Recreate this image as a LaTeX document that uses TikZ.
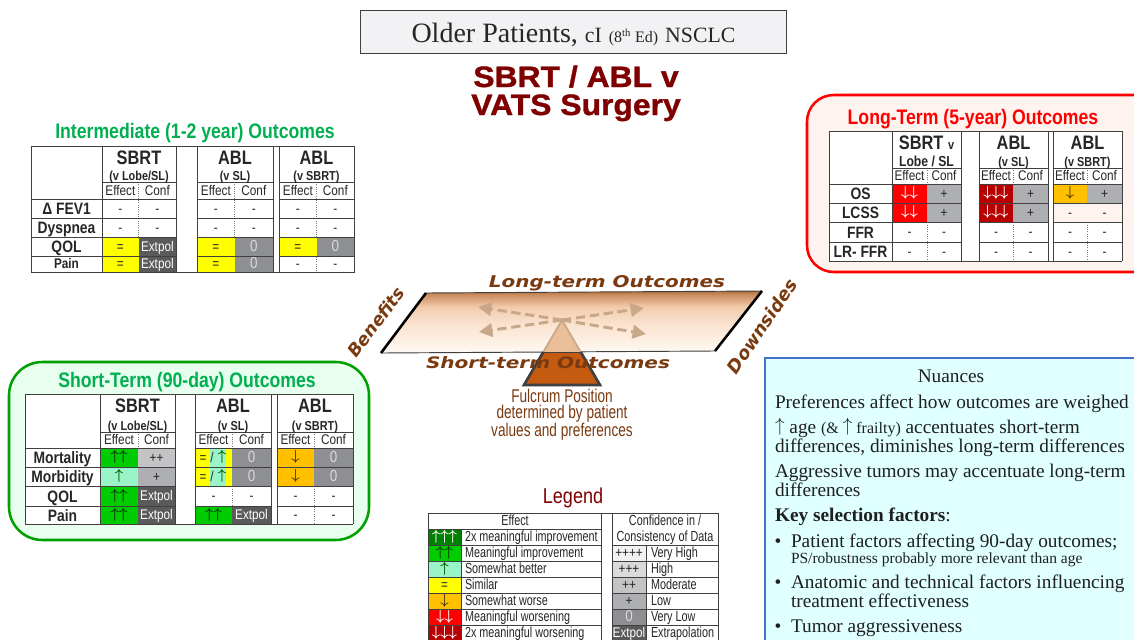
\documentclass[tikz,border=0pt]{standalone}
\usepackage{fontspec}
\usepackage{graphicx}
\usetikzlibrary{arrows.meta}
\setmainfont{Liberation Serif}
\newfontfamily\nar[FakeStretch=0.84]{Liberation Sans}
\newfontfamily\nal[FakeStretch=0.74]{Liberation Sans}
\newfontfamily\ari{Liberation Sans}
\newfontfamily\heavy[FakeBold=1.2,FakeStretch=1.08]{Liberation Sans}
\newfontfamily\wide{DejaVu Sans}
\newcommand\px[1]{\fontsize{\fpeval{#1*.75}}{\fpeval{#1*.78}}\selectfont}
\definecolor{cGrid}{HTML}{404040}
\definecolor{cDG}{HTML}{008000}
\definecolor{cG}{HTML}{00CC00}
\definecolor{cM}{HTML}{99F5C8}
\definecolor{cY}{HTML}{FFFF00}
\definecolor{cO}{HTML}{FFC000}
\definecolor{cR}{HTML}{FF0000}
\definecolor{cDR}{HTML}{B80000}
\definecolor{cVH}{HTML}{F2F2F4}
\definecolor{cH}{HTML}{DADADC}
\definecolor{cMod}{HTML}{C4C4C6}
\definecolor{cLow}{HTML}{ADAFB2}
\definecolor{cVL}{HTML}{8E8F92}
\definecolor{cEx}{HTML}{5A5A5A}
\definecolor{cPk}{HTML}{FFF3F0}
\definecolor{cGreen}{HTML}{00B050}
\definecolor{cBrown}{HTML}{7A3A10}
\definecolor{cMaroon}{HTML}{7F0000}
\definecolor{cFulc}{HTML}{C55A11}
\definecolor{cFulcUp}{HTML}{E9BE98}
\definecolor{cBeam}{HTML}{C8A888}
\definecolor{cGreenBox}{HTML}{00A000}
\definecolor{cGreenFill}{HTML}{E8FFF0}
\definecolor{cBlueBox}{HTML}{4472C4}
\definecolor{cNua}{HTML}{E0FFFF}
\pgfdeclareverticalshading{planeshade}{100bp}{
 rgb(0bp)=(1,.98,.96); rgb(25bp)=(1,.98,.96);
 rgb(50bp)=(.98,.88,.80);
 rgb(62bp)=(.95,.80,.68);
 rgb(72bp)=(.80,.56,.38);
 rgb(75bp)=(.70,.43,.22);
 rgb(100bp)=(.70,.43,.22)}
\tikzset{
 every node/.append style={inner sep=0pt,outer sep=0pt,font=\nar\px{14},text=black!85},
 cellt/.style={text height=7pt,text depth=0pt},
 grid/.style={draw=cGrid,line width=.7pt},
 dashline/.style={draw=cGrid!70,line width=.7pt,densely dotted},
 head/.style={font=\nar\bfseries\px{19.5},text height=10.3pt,text depth=0pt},
 sub/.style={font=\nar\bfseries\px{13},text height=7pt,text depth=0pt},
 lab/.style={font=\nar\bfseries\px{16.5},text height=9pt,text depth=0pt},
 nua/.style={anchor=base west,font=\rmfamily\px{19.3},text=black!88},
 bul/.style={anchor=base,font=\rmfamily\px{19.3},text=black!88},
 ttl/.style={font=\nar\bfseries\px{21},text height=11pt,text depth=0pt},
 sideT/.style={font=\wide\bfseries\itshape,text=cBrown},
 beam/.style={draw=cBeam,line width=2.2pt,dash pattern=on 7pt off 3.5pt,-{Triangle[length=10pt,width=10pt]}},
 leg/.style={anchor=west,font=\nal\px{14.6},cellt},
}
\newcounter{cellno}
\newcommand\SetX[9]{\def\xL{#1}\def\xA{#2}\def\xAd{#3}\def\xB{#4}\def\xC{#5}\def\xCd{#6}\def\xD{#7}\def\xE{#8}\def\xEd{#9}}
\newcommand\SetY[8]{\def\yT{#1}\def\yH{#2}\def\yS{#3}\def\yA{#4}\def\yB{#5}\def\yC{#6}\def\yD{#7}\def\yE{#8}}
\newcommand\SetRow[2]{\def\ya{#1}\def\yb{#2}}
\newcommand\Cell[6]{% x1 x2 y1 y2 fill text
 \stepcounter{cellno}%
 \path[fill=#5] (#1,#3) rectangle (#2,#4);
 \node[cellt] (cell\thecellno) at ({(#1+#2)/2},{(#3+#4)/2}) {#6};}
\newcommand\Pair[7]{\Cell{#1}{#2}{\ya}{\yb}{#4}{#5}\Cell{#2}{#3}{\ya}{\yb}{#6}{#7}}
\newcommand\PA[4]{\Pair{\xA}{\xAd}{\xB}{#1}{#2}{#3}{#4}}
\newcommand\PB[4]{\Pair{\xC}{\xCd}{\xD}{#1}{#2}{#3}{#4}}
\newcommand\PC[4]{\Pair{\xE}{\xEd}{\xF}{#1}{#2}{#3}{#4}}
\newcommand\Lab[2][lab]{\stepcounter{cellno}\node[#1] (lab\thecellno) at ({(\xL+\xA)/2},{(\ya+\yb)/2}) {#2};}
\newcommand\TableBase{%
 \fill[white] (\xL,\yT) rectangle (\xF,\yE);
 \foreach \xx in {\xAd,\xCd,\xEd} {\draw[dashline] (\xx,\yH) -- (\xx,\yE);}
}
\newcommand\TableGrid{%
 \draw[grid] (\xL,\yT) -- (\xF,\yT) (\xL,\yE) -- (\xF,\yE);
 \foreach \xx in {\xL,\xA,\xB,\xC,\xD,\xE,\xF} {\draw[grid] (\xx,\yT) -- (\xx,\yE);}
 \foreach \yy in {\yS,\yA,\yB,\yC} {
  \draw[grid] (\xL,\yy) -- (\xB,\yy) (\xC,\yy) -- (\xD,\yy) (\xE,\yy) -- (\xF,\yy);}
 \foreach \xa/\xb in {\xA/\xB,\xC/\xD,\xE/\xF} {\draw[grid] (\xa,\yH) -- (\xb,\yH);}
}
\newcommand\Head[5]{% xa xd xb title sub
 \stepcounter{cellno}%
 \node[head] (h\thecellno) at ({(#1+#3)/2},{\yT+11.5}) {#4};
 \node[sub] (s\thecellno) at ({(#1+#3)/2},{\yH-6.5}) {#5};
 \node[cellt] (e\thecellno) at ({(#1+#2)/2},{(\yH+\yS)/2}) {Effect};
 \node[cellt] (c\thecellno) at ({(#2+#3)/2},{(\yH+\yS)/2}) {Conf};}
\newcommand\Ar[1]{\raisebox{1pt}{\fontsize{10.95}{13}\selectfont\boldmath$#1$}}
\newcommand\Uuu{\textcolor{white}{\Ar{\uparrow\uparrow\uparrow}}}
\newcommand\Uu{\textcolor{black!55!cDG}{\Ar{\uparrow\uparrow}}}
\newcommand\U{\textcolor{black!30!cDG}{\Ar{\uparrow}}}
\newcommand\Dn{\textcolor{black!70!cO}{\Ar{\downarrow}}}
\newcommand\Dd{\textcolor{white}{\Ar{\downarrow\downarrow}}}
\newcommand\Ddd{\textcolor{white}{\Ar{\downarrow\downarrow\downarrow}}}
\newcommand\Ex{\textcolor{white}{Extpol}}
\newcommand\Zr{\textcolor{white!85!black}{\px{16}0}}
\newcommand\NUp{\raisebox{1pt}{\fontsize{14.4}{16}\selectfont$\uparrow$}}
\begin{document}
\begin{tikzpicture}[x=0.75pt,y=-0.75pt]
\useasboundingbox (0,0) rectangle (1134,639);
\clip (0,0) rectangle (1134,639);
\fill[white] (0,0) rectangle (1134,639);
% Title
\node[draw=cGrid,fill=cVH,line width=.7pt,minimum width=320pt,minimum height=32.2pt] (titlebox) at (573.5,31.5) {};
\node[anchor=base,font=\rmfamily\px{28},text=black!85] (title) at (573.5,42) {Older Patients, {\px{21.8}cI} {\px{16}(8\textsuperscript{th} Ed)} {\px{21.8}NSCLC}};
\node[anchor=base,font=\heavy\bfseries\px{29.5},text=cMaroon] (main1) at (576,87) {SBRT / ABL v};
\node[anchor=base,font=\heavy\bfseries\px{29.5},text=cMaroon] (main2) at (576,115) {VATS Surgery};

% Intermediate
\node[ttl,text=cGreen] (intT) at (195,131) {Intermediate (1-2 year) Outcomes};
\SetX{31}{102}{138.7}{176}{197}{234.7}{273}{279}{316.7}\def\xF{354}
\SetY{146}{182}{199}{218}{237}{256}{272.5}{272.5}
\TableBase
\SetRow{\yS}{\yA}\Lab{Δ FEV1}\PA{none}{-}{none}{-}\PB{none}{-}{none}{-}\PC{none}{-}{none}{-}
\SetRow{\yA}{\yB}\Lab{Dyspnea}\PA{none}{-}{none}{-}\PB{none}{-}{none}{-}\PC{none}{-}{none}{-}
\SetRow{\yB}{\yC}\Lab{QOL}\PA{cY}{=}{cEx}{\Ex}\PB{cY}{=}{cVL}{\Zr}\PC{cY}{=}{cVL}{\Zr}
\SetRow{\yC}{\yD}\Lab[font=\nar\bfseries\px{14},cellt]{Pain}\PA{cY}{=}{cEx}{\Ex}\PB{cY}{=}{cVL}{\Zr}\PC{none}{-}{none}{-}
\TableGrid
\Head{\xA}{\xAd}{\xB}{SBRT}{(v Lobe/SL)}
\Head{\xC}{\xCd}{\xD}{ABL}{(v SL)}
\Head{\xE}{\xEd}{\xF}{ABL}{(v SBRT)}

% Long term
\draw[draw=cR,fill=cPk,line width=1.9pt,rounded corners=20pt] (807,95) rectangle (1170,272);
\node[ttl,text=cR] (longT) at (973,117) {Long-Term (5-year) Outcomes};
\SetX{829}{892}{927}{961}{979}{1013}{1048}{1053}{1087}\def\xF{1122}
\SetY{131}{168}{184}{203}{222}{242}{261}{261}
\TableBase
\SetRow{\yS}{\yA}\Lab{OS}\PA{cR}{\Dd}{cLow}{+}\PB{cDR}{\Ddd}{cLow}{+}\PC{cO}{\Dn}{cLow}{+}
\SetRow{\yA}{\yB}\Lab{LCSS}\PA{cR}{\Dd}{cLow}{+}\PB{cDR}{\Ddd}{cLow}{+}\PC{cPk}{-}{cPk}{-}
\SetRow{\yB}{\yC}\Lab{FFR}\PA{none}{-}{none}{-}\PB{none}{-}{none}{-}\PC{none}{-}{none}{-}
\SetRow{\yC}{\yD}\Lab{LR- FFR}\PA{none}{-}{none}{-}\PB{none}{-}{none}{-}\PC{none}{-}{none}{-}
\TableGrid
\Head{\xA}{\xAd}{\xB}{SBRT {\px{13}v}}{\px{14.5}Lobe / SL}
\Head{\xC}{\xCd}{\xD}{ABL}{(v SL)}
\Head{\xE}{\xEd}{\xF}{ABL}{(v SBRT)}

% Short term
\draw[draw=cGreenBox,fill=cGreenFill,line width=1.9pt,rounded corners=25pt] (9,362) rectangle (369,540);
\node[ttl,text=cGreen] (shortT) at (187,380) {Short-Term (90-day) Outcomes};
\SetX{25}{100}{138}{175}{195}{232}{271}{277}{314}\def\xF{353}
\SetY{394}{432}{448}{467}{486}{506}{524}{524}
\TableBase
\SetRow{\yS}{\yA}\Lab{Mortality}\PA{cG}{\Uu}{cMod}{++}\PC{cO}{\Dn}{cVL}{\Zr}
\fill[cY] (\xC,\yS) rectangle (\xCd,\yB);\fill[cM] (210,\yS) rectangle (226,\yB);
\Cell{\xCd}{\xD}{\yS}{\yA}{cVL}{\Zr}
\stepcounter{cellno}\node[cellt] (mixa\thecellno) at (203,457.5) {=};\node[cellt] (mixb\thecellno) at (212,457.5) {/};\node[cellt] (mixc\thecellno) at (222,457.5) {\U};
\SetRow{\yA}{\yB}\Lab{Morbidity}\PA{cM}{\U}{cLow}{+}\PC{cO}{\Dn}{cVL}{\Zr}
\Cell{\xCd}{\xD}{\yA}{\yB}{cVL}{\Zr}
\stepcounter{cellno}\node[cellt] (mixa\thecellno) at (203,476.5) {=};\node[cellt] (mixb\thecellno) at (212,476.5) {/};\node[cellt] (mixc\thecellno) at (222,476.5) {\U};
\SetRow{\yB}{\yC}\Lab{QOL}\PA{cG}{\Uu}{cEx}{\Ex}\PB{none}{-}{none}{-}\PC{none}{-}{none}{-}
\SetRow{\yC}{\yD}\Lab{Pain}\PA{cG}{\Uu}{cEx}{\Ex}\PB{cG}{\Uu}{cEx}{\Ex}\PC{none}{-}{none}{-}
\TableGrid
\Head{\xA}{\xAd}{\xB}{SBRT}{(v Lobe/SL)}
\Head{\xC}{\xCd}{\xD}{ABL}{(v SL)}
\Head{\xE}{\xEd}{\xF}{ABL}{(v SBRT)}

% Seesaw
\coordinate (pTL) at (426,293);\coordinate (pTR) at (762,291);\coordinate (pBR) at (715,351);\coordinate (pBL) at (381,353);
\coordinate (apex) at (562,320);\coordinate (fL) at (524,385);\coordinate (fR) at (600,385);
\coordinate (mL) at (543.3,352);\coordinate (mR) at (580.7,352);
\coordinate (a1) at (478,307);\coordinate (a2) at (644,308);\coordinate (a3) at (479,332);\coordinate (a4) at (646,334);
\path[shading=planeshade] (pTL) -- (pTR) -- (pBR) -- (pBL) -- cycle;
\draw[cGrid,line width=.7pt] (pTL) -- (pTR) (pBL) -- (pBR);
\draw[black,line width=1.9pt] (pTL) -- (pBL) (pTR) -- (pBR);
\fill[cFulcUp] (apex) -- (mR) -- (mL) -- cycle;
\draw[cBeam,line width=1.3pt] (mL) -- (apex) -- (mR);
\fill[cFulc] (mL) -- (fL) -- (fR) -- (mR) -- cycle;
\draw[cGrid,line width=2pt] (mL) -- (fL) -- (fR) -- (mR);
\draw[cGrid,line width=.7pt] (mL) -- (mR);
\foreach \t in {a1,a2,a3,a4} {\draw[beam] (apex) -- (\t);}
\node[sideT] (ltO) at (607,283) {\resizebox{177pt}{9pt}{Long-term Outcomes}};
\node[sideT] (stO) at (548,362.5) {\resizebox{183pt}{9pt}{Short-term Outcomes}};
\node[font=\wide\bfseries\itshape\px{17.5},text=cBrown,rotate=53] (ben) at (376,322) {Benefits};
\node[font=\wide\bfseries\itshape\px{18},text=cBrown,rotate=56] (dow) at (762,326) {Downsides};
\node[font=\nal\fontsize{13.8}{12}\selectfont,text=cBrown,align=center] (fulc) at (562,414.5) {Fulcrum Position\\determined by patient\\values and preferences};

% Legend
\node[font=\nar\px{21.5},text=cMaroon] (legT) at (573,498) {Legend};
\fill[white] (428,513) rectangle (718,640);
\foreach \a/\b/\c/\d/\e in {529/545/cDG/\Uuu/2x meaningful improvement,545/561/cG/\Uu/Meaningful improvement,561/577/cM/\U/Somewhat better,577/593/cY/=/Similar,593/609/cO/\Dn/Somewhat worse,609/625/cR/\Dd/Meaningful worsening,625/641/cDR/\Ddd/2x meaningful worsening}{
 \fill[\c] (428,\a) rectangle (461,\b);
 \node[cellt] (ls\a) at (444.5,{(\a+\b)/2}) {\d};
 \node[leg] (lt\a) at (465,{(\a+\b)/2}) {\e};
 \draw[grid] (428,\a) -- (601,\a);
}
\foreach \a/\b/\c/\d/\e in {545/561/cVH/++++/Very High,561/577/cH/+++/High,577/593/cMod/++/Moderate,593/609/cLow/+/Low,609/625/cVL/\Zr/Very Low,625/641/cEx/\Ex/Extrapolation}{
 \fill[\c] (612,\a) rectangle (646,\b);
 \node[cellt] (rs\a) at (629,{(\a+\b)/2}) {\d};
 \node[leg] (rt\a) at (651,{(\a+\b)/2}) {\e};
 \draw[grid] (612,\a) -- (718,\a);
}
\draw[grid] (428,513) -- (718,513);
\foreach \xx in {428,461,601,612,646,718} {\draw[grid] (\xx,545) -- (\xx,641);}
\draw[grid] (428,513) -- (428,545) (601,513) -- (601,545) (612,513) -- (612,545) (718,513) -- (718,545) (461,529) -- (461,545);
\node[leg,anchor=center] (legE) at (515,521) {Effect};
\node[font=\nal\px{14.6},align=center] (legC) at (665,529.5) {Confidence in /\\[1pt]Consistency of Data};

% Nuances
\draw[draw=cBlueBox,fill=cNua,line width=1.9pt] (765,358) rectangle (1170,680);
\node[nua,anchor=base] (n0) at (951,382) {Nuances};
\node[nua] (n1) at (775,408) {Preferences affect how outcomes are weighed};
\node[nua] (n2) at (775,433) {\NUp\ age {\px{16}(\& \NUp\ frailty)} accentuates short-term};
\node[nua] (n3) at (775,452) {differences, diminishes long-term differences};
\node[nua] (n4) at (775,477) {Aggressive tumors may accentuate long-term};
\node[nua] (n5) at (775,496) {differences};
\node[nua] (n6) at (775,521) {\textbf{Key selection factors}:};
\node[bul] (b1) at (778,547) {•};
\node[nua] (n7) at (791,547) {Patient factors affecting 90-day outcomes;};
\node[nua,font=\rmfamily\px{15.5}] (n8) at (791,563) {PS/robustness probably more relevant than age};
\node[bul] (b2) at (778,588) {•};
\node[nua] (n9) at (791,588) {Anatomic and technical factors influencing};
\node[nua] (n10) at (791,607) {treatment effectiveness};
\node[bul] (b3) at (778,632) {•};
\node[nua] (n11) at (791,632) {Tumor aggressiveness};
\end{tikzpicture}
\end{document}
